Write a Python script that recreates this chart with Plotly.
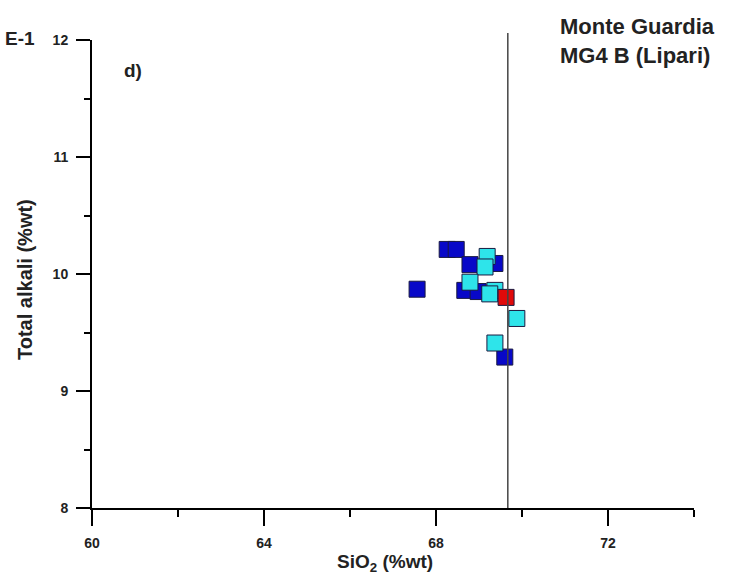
import plotly.graph_objects as go

# Data (SiO2 wt%, total alkali wt%)
dark_x = [67.56, 68.26, 68.47, 68.79, 69.37, 68.67, 68.98, 69.60]
dark_y = [9.87, 10.21, 10.21, 10.08, 10.09, 9.86, 9.85, 9.29]
cyan_x = [69.19, 69.14, 68.79, 69.37, 69.25, 69.88, 69.37]
cyan_y = [10.15, 10.06, 9.93, 9.86, 9.83, 9.62, 9.41]
red_x = [69.63]
red_y = [9.80]
vline_x = 69.67

x_ticks = [60, 64, 68, 72]
y_ticks = [8, 9, 10, 11, 12]

FONT = "Liberation Sans"

def sq(x, y, color):
    return go.Scatter(x=x, y=y, mode="markers", showlegend=False,
                      marker=dict(symbol="square", size=16, color=color,
                                  line=dict(color="#1a1a40", width=1)))

fig = go.Figure()
fig.add_trace(sq(dark_x, dark_y, "#0808c8"))
fig.add_trace(sq(cyan_x, cyan_y, "#2ee4ea"))
fig.add_trace(sq(red_x, red_y, "#e00a0a"))

fig.add_shape(type="line", xref="x", yref="paper", x0=vline_x, x1=vline_x,
              y0=0, y1=1.015, line=dict(color="#444444", width=1.5))

fig.update_xaxes(range=[60, 74], tickvals=x_ticks, ticktext=[str(v) for v in x_ticks],
                 showline=True, linecolor="black", linewidth=2, mirror=False,
                 ticks="outside", ticklen=16, tickwidth=2, tickcolor="black",
                 minor=dict(dtick=2, tick0=60, ticks="outside", ticklen=7, tickwidth=2, tickcolor="black"),
                 showgrid=False, zeroline=False, ticklabelstandoff=5,
                 tickfont=dict(family=FONT, size=14, color="#222222", weight="bold"))
fig.update_yaxes(range=[8, 12], tickvals=y_ticks, ticktext=[str(v) for v in y_ticks],
                 showline=True, linecolor="black", linewidth=2, mirror=False,
                 ticks="outside", ticklen=14, tickwidth=2, tickcolor="black",
                 minor=dict(dtick=0.5, tick0=8, ticks="outside", ticklen=6, tickwidth=2, tickcolor="black"),
                 showgrid=False, zeroline=False, ticklabelstandoff=5,
                 tickfont=dict(family=FONT, size=14, color="#222222", weight="bold"))

ann_font = dict(family=FONT, color="#222222", weight="bold")
fig.add_annotation(xref="paper", yref="paper", x=(385 - 92) / 602, y=-(563 - 508) / 468,
                   text="SiO<sub>2</sub> (%wt)", showarrow=False,
                   font=dict(size=19, **ann_font), xanchor="center", yanchor="middle")
fig.add_annotation(xref="paper", yref="paper", x=(25 - 92) / 602, y=(508 - 280) / 468,
                   text="Total alkali (%wt)", showarrow=False, textangle=-90,
                   font=dict(size=20, **ann_font), xanchor="center", yanchor="middle")
fig.add_annotation(xref="paper", yref="paper", x=(122 - 92) / 602, y=1 - (70 - 40) / 468,
                   text="d)", showarrow=False, font=dict(size=19, **ann_font),
                   xanchor="left", yanchor="middle")
fig.add_annotation(xref="paper", yref="paper", x=(558 - 92) / 602, y=1 + (40 - 41) / 468,
                   text="Monte Guardia<br>MG4 B (Lipari)", showarrow=False, align="left",
                   font=dict(size=22, **ann_font), xanchor="left", yanchor="middle")
fig.add_annotation(xref="paper", yref="paper", x=(37 - 92) / 602, y=1 + (40 - 38) / 468,
                   text="E-1", showarrow=False, font=dict(size=19, **ann_font),
                   xanchor="right", yanchor="middle")

fig.update_layout(width=733, height=578, margin=dict(l=92, r=39, t=40, b=70),
                  plot_bgcolor="white", paper_bgcolor="white")

fig.write_html("out.html")
